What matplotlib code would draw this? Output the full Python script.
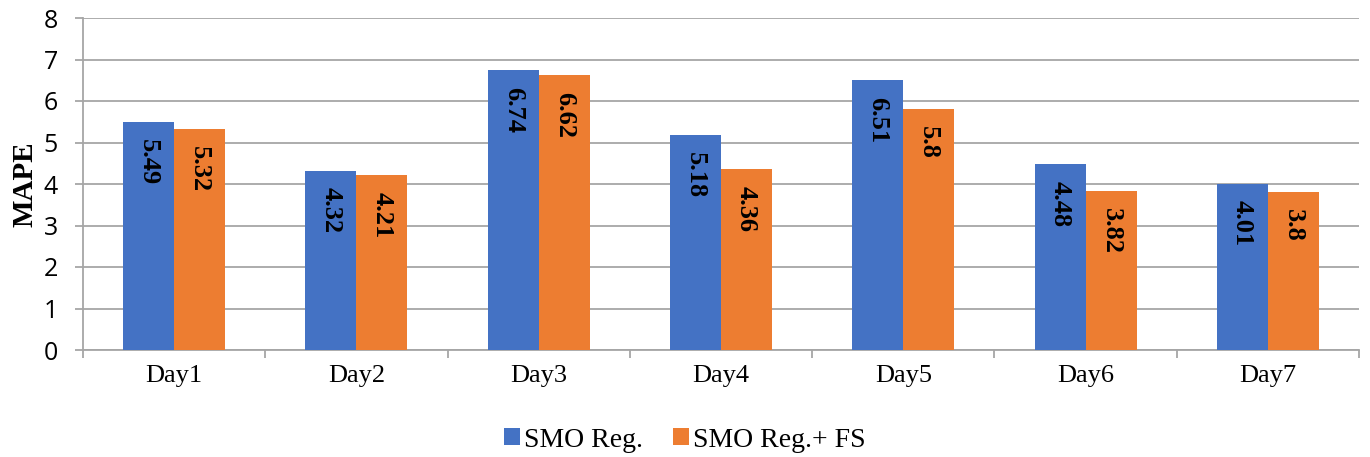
import matplotlib
matplotlib.use("Agg")
import matplotlib.pyplot as plt
import numpy as np

days = ["Day1", "Day2", "Day3", "Day4", "Day5", "Day6", "Day7"]
smo_reg = [5.49, 4.32, 6.74, 5.18, 6.51, 4.48, 4.01]
smo_reg_fs = [5.32, 4.21, 6.62, 4.36, 5.8, 3.82, 3.8]
series_names = ["SMO Reg.", "SMO Reg.+ FS"]
colors = ["#4472C4", "#ED7D31"]

serif = ["Liberation Serif", "DejaVu Serif"]
sans = ["Open Sans", "DejaVu Sans"]

fig = plt.figure(figsize=(13.7, 4.57), dpi=100)
ax = fig.add_axes([83 / 1370, 1 - 350 / 457, (1359 - 83) / 1370, (350 - 18) / 457])

x = np.arange(len(days))
w = 0.28
for i, (vals, name, c) in enumerate(zip([smo_reg, smo_reg_fs], series_names, colors)):
    pos = x + (i - 0.5) * w
    bars = ax.bar(pos, vals, width=w, color=c, label=name, zorder=3)
    for b, v in zip(bars, vals):
        ax.annotate(f"{v:g}", xy=(b.get_x() + b.get_width() / 2, v),
                    xytext=(0, -12), textcoords="offset points",
                    rotation=-90, ha="center", va="top",
                    fontsize=19, fontweight="bold", family=serif,
                    color="black", zorder=4)

ax.set_xlim(-0.5, len(days) - 0.5)
ax.set_ylim(0, 8)
ax.set_yticks(range(0, 9))
ax.set_yticklabels([str(v) for v in range(0, 9)], family=sans, fontsize=18)
ax.yaxis.grid(True, color="#a6a6a6", linewidth=1.3, zorder=0)
ax.set_axisbelow(True)

# category labels centred, tick marks on category boundaries
ax.set_xticks(x)
ax.set_xticklabels(days, family=serif, fontsize=19)
ax.tick_params(axis="x", which="major", length=0, pad=11)
ax.set_xticks(np.arange(-0.5, len(days), 1), minor=True)
ax.tick_params(axis="x", which="minor", length=6, color="#a6a6a6", width=1.3, direction="out")
ax.tick_params(axis="y", length=6, color="#a6a6a6", width=1.3, pad=12)

for s in ["top", "right"]:
    ax.spines[s].set_visible(False)
for s in ["left", "bottom"]:
    ax.spines[s].set_color("#a6a6a6")
    ax.spines[s].set_linewidth(1.3)

ax.set_ylabel("MAPE", family=serif, fontsize=21, fontweight="bold", labelpad=4)

fig.legend(loc="lower center", bbox_to_anchor=(0.5, -0.045), ncol=2, frameon=False,
           prop={"family": serif, "size": 20}, handlelength=0.55, handleheight=0.55,
           handletextpad=0.15, columnspacing=1.1)

fig.savefig("out.png", dpi=100)
